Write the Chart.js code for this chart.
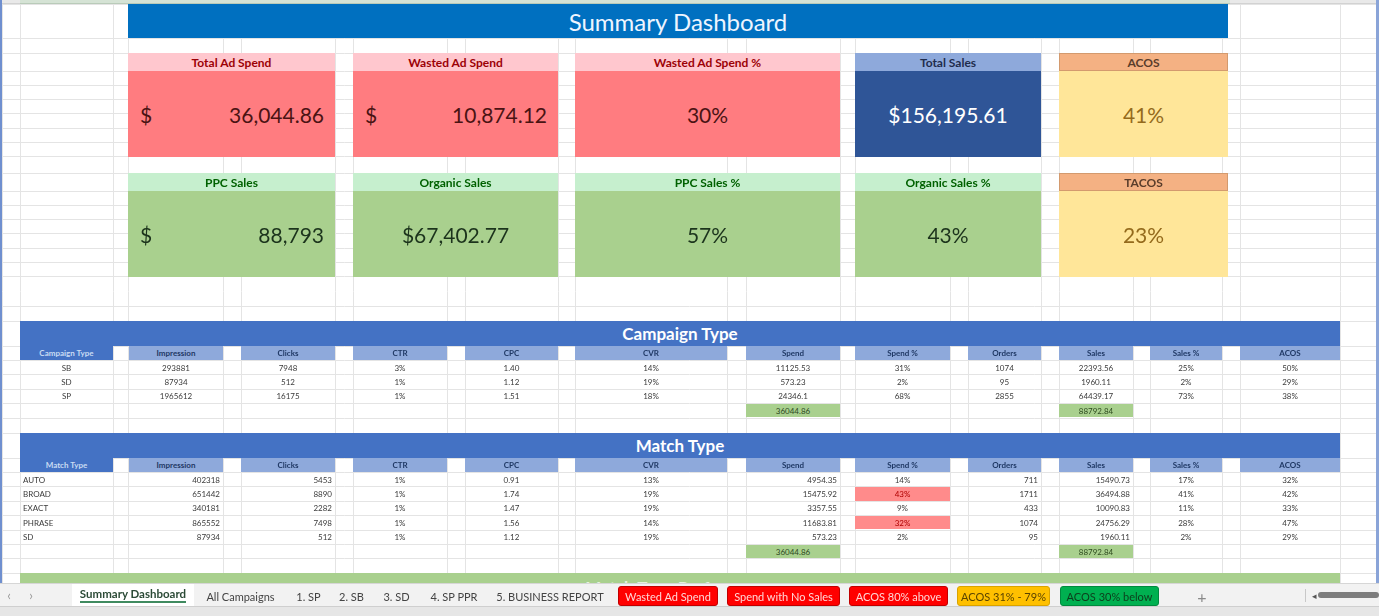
<!DOCTYPE html>
<html>
<head>
<meta charset="utf-8">
<title>Summary Dashboard</title>
<script src="https://cdn.jsdelivr.net/npm/chart.js@4.4.1/dist/chart.umd.min.js"></script>
<style>
  html, body { margin: 0; padding: 0; }
  body { width: 1379px; height: 616px; overflow: hidden; background: #fff; position: relative; font-family: Lato, "Noto Sans", sans-serif; }
  #sheet { position: absolute; left: 0; top: 0; width: 1379px; height: 583px; }
  .b { position: absolute; box-sizing: border-box; display: flex; align-items: center; justify-content: center; white-space: nowrap; overflow: hidden; }
</style>
</head>
<body>
<canvas id="sheet" width="1379" height="583"></canvas>
<div id="layer"></div>
<script>
// ---- data read from the sheet ----
const kpiTopLabels = ['Total Ad Spend', 'Wasted Ad Spend', 'Wasted Ad Spend %', 'Total Sales', 'ACOS'];
const kpiTopValues = [36044.86, 10874.12, 30, 156195.61, 41];
const kpiTopFormats = ['acct2', 'acct2', 'pct', 'usd2', 'pct'];

const kpiBottomLabels = ['PPC Sales', 'Organic Sales', 'PPC Sales %', 'Organic Sales %', 'TACOS'];
const kpiBottomValues = [88793, 67402.77, 57, 43, 23];
const kpiBottomFormats = ['acct0', 'usd2', 'pct', 'pct', 'pct'];

const metricColumns = ['Impression', 'Clicks', 'CTR', 'CPC', 'CVR', 'Spend', 'Spend %', 'Orders', 'Sales', 'Sales %', 'ACOS'];

const campaignTypes = ['SB', 'SD', 'SP'];
const campaignImpression = [293881, 87934, 1965612];
const campaignClicks = [7948, 512, 16175];
const campaignCTR = [3, 1, 1];
const campaignCPC = [1.40, 1.12, 1.51];
const campaignCVR = [14, 19, 18];
const campaignSpend = [11125.53, 573.23, 24346.1];
const campaignSpendPct = [31, 2, 68];
const campaignOrders = [1074, 95, 2855];
const campaignSales = [22393.56, 1960.11, 64439.17];
const campaignSalesPct = [25, 2, 73];
const campaignACOS = [50, 29, 38];
const campaignTotals = [36044.86, 88792.84]; // spend, sales

const matchTypes = ['AUTO', 'BROAD', 'EXACT', 'PHRASE', 'SD'];
const matchImpression = [402318, 651442, 340181, 865552, 87934];
const matchClicks = [5453, 8890, 2282, 7498, 512];
const matchCTR = [1, 1, 1, 1, 1];
const matchCPC = [0.91, 1.74, 1.47, 1.56, 1.12];
const matchCVR = [13, 19, 19, 14, 19];
const matchSpend = [4954.35, 15475.92, 3357.55, 11683.81, 573.23];
const matchSpendPct = [14, 43, 9, 32, 2];
const matchOrders = [711, 1711, 433, 1074, 95];
const matchSales = [15490.73, 36494.88, 10090.83, 24756.29, 1960.11];
const matchSalesPct = [17, 41, 11, 28, 2];
const matchACOS = [32, 42, 33, 47, 29];
const matchTotals = [36044.86, 88792.84]; // spend, sales

const sheetTabs = ['Summary Dashboard', 'All Campaigns', '1. SP', '2. SB', '3. SD', '4. SP PPR', '5. BUSINESS REPORT',
  'Wasted Ad Spend', 'Spend with No Sales', 'ACOS 80% above', 'ACOS 31% - 79%', 'ACOS 30% below'];

// ---- layout (pixels) ----
const LABEL_COL = [20, 113];
const COL_SPANS = [[129, 223], [241, 335], [353, 447], [465, 558], [575, 727], [746, 840],
  [855, 950], [968, 1041], [1059, 1133], [1150, 1222], [1240, 1340]];
const CARD_SPANS = [[128, 335], [353, 558], [575, 840], [855, 1041], [1059, 1228]];
const TAB_SPANS = [[72, 194], [198, 283], [289, 328], [332, 371], [377, 416], [423, 485], [491, 609],
  [618, 718], [727, 840], [849, 948], [957, 1050], [1060, 1159]];

// sheet cell borders, used as the chart's tick positions
const X_EDGES = [2, 20, 113, 128, 223, 241, 335, 353, 447, 465, 558, 575, 727, 746, 840, 855, 950, 968,
  1041, 1059, 1133, 1150, 1222, 1240, 1340];
const Y_EDGES = (() => {
  const e = [4, 38, 53];
  for (let k = 0; k <= 6; k++) e.push(71 + k * 14.33);
  e.push(173);
  for (let k = 0; k <= 6; k++) e.push(191 + k * 14.33);
  e.push(306, 321);
  for (let k = 0; k <= 5; k++) e.push(346 + k * 14.4);
  e.push(433);
  for (let k = 0; k <= 8; k++) e.push(458 + k * 14.4);
  return e;
})();

// ---- styles ----
const THEMES = {
  bad:     { head: '#FFC7CE', headText: '#9C0006', body: '#FF7C80', text: '#4a1313' },
  navy:    { head: '#8EA9DB', headText: '#1F2D4D', body: '#2F5597', text: '#ffffff' },
  neutral: { head: '#F4B183', headText: '#5a3d2b', body: '#FFE699', text: '#946a1c' },
  good:    { head: '#C6EFCE', headText: '#006100', body: '#A9D08E', text: '#1c331c' }
};
const TOP_THEMES = ['bad', 'bad', 'bad', 'navy', 'neutral'];
const BOTTOM_THEMES = ['good', 'good', 'good', 'good', 'neutral'];

const layer = document.getElementById('layer');
function box(x, y, w, h, css, text) {
  const d = document.createElement('div');
  d.className = 'b';
  d.style.cssText = `left:${x}px;top:${y}px;width:${w}px;height:${h}px;` + (css || '');
  if (text !== undefined) d.textContent = text;
  layer.appendChild(d);
  return d;
}

const money2 = v => v.toLocaleString('en-US', { minimumFractionDigits: 2, maximumFractionDigits: 2 });
const money0 = v => v.toLocaleString('en-US', { maximumFractionDigits: 0 });

// ---- Chart.js: the worksheet grid ----
new Chart(document.getElementById('sheet'), {
  type: 'scatter',
  data: { datasets: [{ data: [] }] },
  options: {
    responsive: false,
    animation: false,
    layout: { padding: 0 },
    plugins: { legend: { display: false }, tooltip: { enabled: false } },
    scales: {
      x: {
        type: 'linear', min: 0, max: 1379,
        afterBuildTicks: s => { s.ticks = X_EDGES.map(v => ({ value: v })); },
        ticks: { display: false },
        grid: { color: '#e4e4e4', drawTicks: false },
        border: { display: false }
      },
      y: {
        type: 'linear', min: 0, max: 583, reverse: true,
        afterBuildTicks: s => { s.ticks = Y_EDGES.map(v => ({ value: v })); },
        ticks: { display: false },
        grid: { color: '#e4e4e4', drawTicks: false },
        border: { display: false }
      }
    }
  }
});

// window chrome around the sheet
box(0, 0, 1379, 4, 'background:#e9e9e9;border-bottom:1px solid #d2d2d2;');
box(20, 0, 1210, 4, 'background:#d5e3d5;border-bottom:1px solid #b9cbb9;');
box(0, 0, 2, 616, 'background:#6f8fcf;');
box(1376, 0, 3, 616, 'background:#8aa4d8;');

// title bar
box(128, 4, 1100, 34, 'background:#0070C0;color:#eef5ff;font-size:24px;', 'Summary Dashboard');

// KPI cards
function kpiText(v, fmt) {
  if (fmt === 'pct') return v + '%';
  if (fmt === 'usd2') return '$' + money2(v);
  return fmt === 'acct0' ? money0(v) : money2(v);
}
function kpiRow(top, labels, values, formats, themes) {
  labels.forEach((lab, i) => {
    const [x0, x1] = CARD_SPANS[i];
    const t = THEMES[themes[i]];
    box(x0, top, x1 - x0, 18, `background:${t.head};color:${t.headText};font-size:12px;font-weight:700;` +
      (themes[i] === 'neutral' ? 'border:1px solid #d39a6e;' : ''), lab);
    const body = box(x0, top + 18, x1 - x0, 86, `background:${t.body};color:${t.text};font-size:21px;`);
    if (formats[i].startsWith('acct')) {
      body.style.justifyContent = 'space-between';
      body.style.padding = '0 11px 0 12px';
      const s = document.createElement('span'); s.textContent = '$';
      const n = document.createElement('span'); n.textContent = kpiText(values[i], formats[i]);
      body.appendChild(s); body.appendChild(n);
    } else {
      body.textContent = kpiText(values[i], formats[i]);
    }
  });
}
kpiRow(53, kpiTopLabels, kpiTopValues, kpiTopFormats, TOP_THEMES);
kpiRow(173, kpiBottomLabels, kpiBottomValues, kpiBottomFormats, BOTTOM_THEMES);

// data tables
const fmtInt = v => String(v);
const fmtPct = v => v + '%';
const fmtCpc = v => v.toFixed(2);
const fmtNum = v => String(v);

function table(top, title, labelHead, labels, cols, totals, numAlign, labelAlign) {
  const rowH = 14.4;
  box(LABEL_COL[0], top, 1320, 25, 'background:#4472C4;color:#fff;font-size:17px;font-weight:700;', title);
  const hy = top + 25;
  box(LABEL_COL[0], hy, LABEL_COL[1] - LABEL_COL[0], rowH,
    'background:#4472C4;color:#c9dcf3;font-size:8px;font-weight:700;', labelHead);
  metricColumns.forEach((m, j) => {
    const [x0, x1] = COL_SPANS[j];
    box(x0, hy, x1 - x0, rowH, 'background:#8EA9DB;color:#1F3864;font-size:8px;font-weight:700;', m);
  });
  labels.forEach((lab, i) => {
    const y = hy + rowH * (i + 1);
    box(LABEL_COL[0], y, LABEL_COL[1] - LABEL_COL[0], rowH,
      `color:#3a3a3a;font-size:8px;justify-content:${labelAlign};padding:0 3px;`, lab);
    cols.forEach((c, j) => {
      const [x0, x1] = COL_SPANS[j];
      const v = c.vals[i];
      const hot = c.flag && c.flag(v);
      const al = c.num ? numAlign : 'center';
      box(x0, y + 0.5, x1 - x0, rowH - 1,
        `color:${hot ? '#b00000' : '#3a3a3a'};font-size:8px;justify-content:${al};padding:0 3px;` +
        (hot ? 'background:#FF8B8B;' : ''), c.fmt(v));
    });
  });
  const ty = hy + rowH * (labels.length + 1);
  [5, 8].forEach((j, k) => {
    const [x0, x1] = COL_SPANS[j];
    box(x0, ty + 0.5, x1 - x0, rowH - 1, 'background:#A9D08E;color:#2d4a1e;font-size:8px;', fmtNum(totals[k]));
  });
}

table(321, 'Campaign Type', 'Campaign Type', campaignTypes, [
  { vals: campaignImpression, fmt: fmtInt, num: true },
  { vals: campaignClicks, fmt: fmtInt, num: true },
  { vals: campaignCTR, fmt: fmtPct },
  { vals: campaignCPC, fmt: fmtCpc },
  { vals: campaignCVR, fmt: fmtPct },
  { vals: campaignSpend, fmt: fmtNum, num: true },
  { vals: campaignSpendPct, fmt: fmtPct },
  { vals: campaignOrders, fmt: fmtInt, num: true },
  { vals: campaignSales, fmt: fmtNum, num: true },
  { vals: campaignSalesPct, fmt: fmtPct },
  { vals: campaignACOS, fmt: fmtPct }
], campaignTotals, 'center', 'center');

table(433, 'Match Type', 'Match Type', matchTypes, [
  { vals: matchImpression, fmt: fmtInt, num: true },
  { vals: matchClicks, fmt: fmtInt, num: true },
  { vals: matchCTR, fmt: fmtPct },
  { vals: matchCPC, fmt: fmtCpc },
  { vals: matchCVR, fmt: fmtPct },
  { vals: matchSpend, fmt: fmtNum, num: true },
  { vals: matchSpendPct, fmt: fmtPct, flag: v => v > 30 },
  { vals: matchOrders, fmt: fmtInt, num: true },
  { vals: matchSales, fmt: fmtNum, num: true },
  { vals: matchSalesPct, fmt: fmtPct },
  { vals: matchACOS, fmt: fmtPct }
], matchTotals, 'flex-end', 'flex-start');

// next section, cut off by the tab bar
const cut = box(LABEL_COL[0], 573, 1320, 10, 'background:#A9D08E;align-items:flex-start;');
const cutText = document.createElement('span');
cutText.textContent = 'Match Type Performance';
cutText.style.cssText = 'color:#e6f2dc;font-size:17px;font-weight:700;margin-top:4px;';
cut.appendChild(cutText);

// sheet tab bar
box(0, 583, 1379, 23, 'background:#f2f2f2;border-top:1px solid #d6d6d6;');
box(0, 606, 1379, 10, 'background:#e6e6e6;border-top:1px solid #cfcfcf;');
box(2, 586, 14, 18, 'color:#9a9a9a;font-size:13px;', '‹');
box(24, 586, 14, 18, 'color:#9a9a9a;font-size:13px;', '›');
const TAB_FILLS = [null, null, null, null, null, null, null,
  ['#FF0000', '#ffd6d6', '#c00000'], ['#FF0000', '#ffd6d6', '#c00000'], ['#FF0000', '#ffd6d6', '#c00000'],
  ['#FFC000', '#5a4300', '#d9a300'], ['#00B050', '#0c3d1c', '#008a3e']];
sheetTabs.forEach((name, i) => {
  const [x0, x1] = TAB_SPANS[i];
  const f = TAB_FILLS[i];
  if (f) {
    box(x0, 586, x1 - x0, 20, `background:${f[0]};color:${f[1]};font-size:11px;border:1px solid ${f[2]};border-radius:3px;`, name);
  } else if (i === 0) {
    const t = box(x0, 584, x1 - x0, 22, 'background:#fff;color:#2b4a36;font-size:11.5px;font-weight:700;');
    const s = document.createElement('span');
    s.textContent = name;
    s.style.cssText = 'border-bottom:2px solid #3f8a5f;line-height:14px;';
    t.appendChild(s);
  } else {
    box(x0, 586, x1 - x0, 20, 'color:#444;font-size:11px;', name);
  }
});
box(1192, 586, 20, 20, 'color:#8a8a8a;font-size:16px;', '+');
box(1305, 589, 1, 13, 'background:#c8c8c8;');
box(1310, 590, 8, 10, 'color:#555;font-size:9px;', '◂');
box(1318, 592, 61, 6, 'background:#7d7d7d;border-radius:3px;');
</script>
</body>
</html>
